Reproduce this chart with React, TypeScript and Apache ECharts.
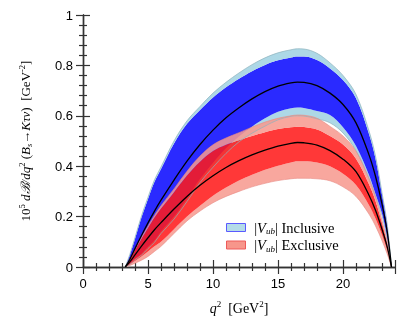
import React, { useEffect, useRef } from "react";
import * as echarts from "echarts";

// q^2 sampling points (GeV^2)
const Q = [3.25, 3.6, 4, 4.5, 5, 5.5, 6, 7, 8, 9, 10, 11, 12, 13, 14, 15, 16, 16.5, 17, 18, 19, 20, 21, 22, 22.5, 23, 23.4, 23.73];

// |Vub| inclusive
const incMid = [0, 0.03, 0.073, 0.125, 0.175, 0.222, 0.265, 0.345, 0.42, 0.486, 0.543, 0.592, 0.632, 0.667, 0.696, 0.718, 0.731, 0.734, 0.733, 0.72, 0.69, 0.645, 0.572, 0.445, 0.36, 0.25, 0.14, 0];
const incHi2 = [0, 0.05, 0.117, 0.203, 0.277, 0.346, 0.397, 0.5, 0.58, 0.637, 0.69, 0.733, 0.77, 0.803, 0.83, 0.85, 0.862, 0.866, 0.865, 0.848, 0.81, 0.76, 0.685, 0.54, 0.44, 0.295, 0.17, 0];
const incHi1 = [0, 0.047, 0.112, 0.197, 0.27, 0.338, 0.389, 0.49, 0.568, 0.623, 0.673, 0.713, 0.747, 0.777, 0.802, 0.82, 0.831, 0.835, 0.835, 0.821, 0.788, 0.742, 0.67, 0.528, 0.43, 0.288, 0.166, 0];
const incLo1 = [0, 0.013, 0.034, 0.053, 0.08, 0.106, 0.141, 0.2, 0.272, 0.349, 0.413, 0.471, 0.518, 0.557, 0.59, 0.616, 0.63, 0.633, 0.631, 0.619, 0.603, 0.555, 0.48, 0.365, 0.29, 0.212, 0.114, 0];
const incLo2 = [0, 0.01, 0.029, 0.047, 0.073, 0.098, 0.133, 0.19, 0.26, 0.335, 0.396, 0.451, 0.497, 0.531, 0.559, 0.584, 0.598, 0.6, 0.599, 0.588, 0.572, 0.532, 0.462, 0.351, 0.279, 0.204, 0.109, 0];

// |Vub| exclusive
const excMid = [0, 0.02, 0.048, 0.083, 0.116, 0.148, 0.176, 0.23, 0.28, 0.324, 0.362, 0.395, 0.422, 0.445, 0.464, 0.48, 0.491, 0.494, 0.493, 0.484, 0.462, 0.428, 0.378, 0.285, 0.225, 0.15, 0.08, 0];
const excHi2 = [0, 0.03, 0.07, 0.118, 0.162, 0.205, 0.243, 0.31, 0.38, 0.44, 0.485, 0.512, 0.533, 0.555, 0.575, 0.59, 0.6, 0.603, 0.602, 0.59, 0.558, 0.52, 0.46, 0.35, 0.28, 0.185, 0.1, 0];
const excHi1 = [0, 0.028, 0.066, 0.112, 0.155, 0.196, 0.232, 0.297, 0.363, 0.418, 0.46, 0.485, 0.503, 0.52, 0.535, 0.548, 0.555, 0.557, 0.556, 0.546, 0.52, 0.486, 0.43, 0.328, 0.262, 0.174, 0.094, 0];
const excLo1 = [0, 0.01, 0.024, 0.042, 0.062, 0.082, 0.1, 0.15, 0.2, 0.243, 0.283, 0.315, 0.343, 0.366, 0.386, 0.402, 0.415, 0.42, 0.42, 0.415, 0.4, 0.37, 0.325, 0.245, 0.192, 0.127, 0.066, 0];
const excLo2 = [0, 0.006, 0.015, 0.027, 0.042, 0.062, 0.082, 0.133, 0.183, 0.222, 0.255, 0.28, 0.3, 0.318, 0.332, 0.343, 0.35, 0.352, 0.352, 0.35, 0.342, 0.318, 0.28, 0.21, 0.163, 0.105, 0.052, 0];

const legendNames = ["Inclusive", "Exclusive"];

const SERIF = "'Liberation Serif', 'Times New Roman', serif";
const SANS = "'Liberation Sans', Arial, Helvetica, sans-serif";
const SMOOTH = 0.35;

// rows are [value, q] so that the stacked dimension is the y value
const rows = (a: number[]) => Q.map((q, i) => [a[i], q]);
const diffRows = (a: number[], b: number[]) => Q.map((q, i) => [+(a[i] - b[i]).toFixed(4), q]);
const ENC = { x: 1, y: 0 };

function band(stack: string, lo2: number[], lo1: number[], hi1: number[], hi2: number[], light: string, dark: string, edge: string, opacity: number, name: string) {
  const common = { type: "line", stack, symbol: "none", smooth: SMOOTH, silent: true, z: 2, encode: ENC };
  return [
    { ...common, data: rows(lo2), lineStyle: { width: 0.7, color: edge, opacity } },
    { ...common, data: diffRows(lo1, lo2), lineStyle: { width: 0 }, areaStyle: { color: light, opacity } },
    { ...common, data: diffRows(hi1, lo1), lineStyle: { width: 0 }, areaStyle: { color: dark, opacity } },
    { ...common, name, data: diffRows(hi2, hi1), lineStyle: { width: 0.7, color: edge, opacity }, areaStyle: { color: light, opacity } },
  ];
}

const tickStyle = { color: "#333", width: 1.2 };

function makeX(pos: string, labels: boolean) {
  return {
    type: "value", position: pos, min: 0, max: 24, interval: 5,
    axisLine: { show: true, lineStyle: { color: "#333", width: 1.4 } },
    axisTick: { show: true, inside: true, length: 7, lineStyle: tickStyle },
    minorTick: { show: true, splitNumber: 5, length: 4, lineStyle: tickStyle },
    splitLine: { show: false }, minorSplitLine: { show: false },
    axisLabel: { show: labels, showMaxLabel: false, fontFamily: SANS, fontSize: 13, color: "#000", margin: 10 },
  };
}
function makeY(pos: string, labels: boolean) {
  return {
    type: "value", position: pos, min: 0, max: 1, interval: 0.2,
    axisLine: { show: true, lineStyle: { color: "#333", width: 1.4 } },
    axisTick: { show: true, inside: true, length: 7, lineStyle: tickStyle },
    minorTick: { show: true, splitNumber: 5, length: 4, lineStyle: tickStyle },
    splitLine: { show: false }, minorSplitLine: { show: false },
    axisLabel: { show: labels, fontFamily: SANS, fontSize: 13, color: "#000", margin: 10 },
  };
}

export default function App() {
  const ref = useRef<HTMLDivElement>(null);
  useEffect(() => {
    if (!ref.current) return;
    const chart = echarts.init(ref.current, null, { renderer: "svg" });
    const richX = {
      r: { fontFamily: SERIF, fontSize: 14, color: "#000" },
      i: { fontFamily: SERIF, fontSize: 14, fontStyle: "italic", color: "#000" },
      sp: { fontFamily: SERIF, fontSize: 9, color: "#000", padding: [0, 0, 9, 0] },
    };
    const richY = {
      r: { fontFamily: SERIF, fontSize: 13, color: "#000" },
      i: { fontFamily: SERIF, fontSize: 13, fontStyle: "italic", color: "#000" },
      sp: { fontFamily: SERIF, fontSize: 8.5, color: "#000", padding: [0, 0, 8, 0] },
      sb: { fontFamily: SERIF, fontSize: 8.5, fontStyle: "italic", color: "#000", padding: [7, 0, 0, 0] },
    };
    const xA = makeX("bottom", true) as any;
    xA.name = "{i|q}{sp|2}{r|  [GeV}{sp|2}{r|]}";
    xA.nameLocation = "middle";
    xA.nameGap = 32;
    xA.nameTextStyle = { rich: richX };
    const yA = makeY("left", true) as any;
    yA.name = "{r|10}{sp|5}{i| dℬ/dq}{sp|2}{r| (}{i|B}{sb|s}{r|→}{i|Kτν}{r|)  [GeV}{sp|-2}{r|]}";
    yA.nameLocation = "middle";
    yA.nameGap = 49;
    yA.nameRotate = 90;
    yA.nameTextStyle = { rich: richY };

    chart.setOption({
      animation: false,
      grid: { left: 83, right: 12, top: 15, bottom: 59 },
      xAxis: [xA, makeX("top", false)],
      yAxis: [yA, makeY("right", false)],
      legend: {
        left: 221, top: 215, orient: "vertical", itemWidth: 19, itemHeight: 8, itemGap: 2,
        selectedMode: false,
        data: [
          { name: legendNames[0], icon: "rect", itemStyle: { color: "#b4dce8", borderColor: "#5a5aff", borderWidth: 1 } },
          { name: legendNames[1], icon: "rect", itemStyle: { color: "#f7968b", borderColor: "#ee5a5a", borderWidth: 1 } },
        ],
        formatter: (n: string) => `{p| |}{v|V}{s|ub}{p|| ${n}}`,
        textStyle: {
          rich: {
            p: { fontFamily: SERIF, fontSize: 14.5, color: "#000" },
            v: { fontFamily: SERIF, fontSize: 14.5, fontStyle: "italic", color: "#000" },
            s: { fontFamily: SERIF, fontSize: 9, fontStyle: "italic", color: "#000", padding: [7, 0, 0, 0] },
          },
        },
      },
      series: [
        ...band("inc", incLo2, incLo1, incHi1, incHi2, "#add8e6", "#2a2aff", "#8fb3bd", 1, legendNames[0]),
        { type: "line", data: rows(incMid), encode: ENC, symbol: "none", smooth: SMOOTH, lineStyle: { color: "#000", width: 1.3 }, z: 3, silent: true },
        ...band("exc", excLo2, excLo1, excHi1, excHi2, "#f79a90", "#ff1a1a", "#e88a84", 0.87, legendNames[1]),
        { type: "line", data: rows(excMid), encode: ENC, symbol: "none", smooth: SMOOTH, lineStyle: { color: "#000", width: 1.3 }, z: 3, silent: true },
      ],
    });
    return () => chart.dispose();
  }, []);
  return <div ref={ref} style={{ position: "fixed", left: 0, top: 0, width: 407, height: 326 }} />;
}
